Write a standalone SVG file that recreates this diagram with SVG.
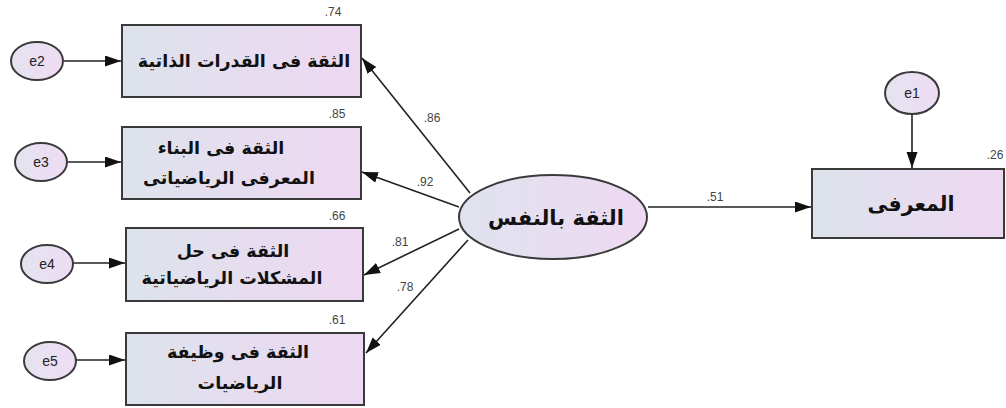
<svg xmlns="http://www.w3.org/2000/svg" width="1006" height="408" viewBox="0 0 1006 408">
<style>
.box{stroke:#3a3a3a;stroke-width:2;fill:url(#gb)}
.err{stroke:#3a3a3a;stroke-width:2;fill:url(#ge)}
.lat{stroke:#3a3a3a;stroke-width:2;fill:url(#gl)}
.conn{stroke:#222;stroke-width:1.6;fill:none;marker-end:url(#ah)}
.ar{font-family:"DejaVu Sans",sans-serif;font-weight:bold;font-size:17.5px;fill:#111;text-anchor:middle}
.el{font-family:"Liberation Sans",Arial,sans-serif;font-size:14px;fill:#222;text-anchor:middle}
.num{font-family:"Liberation Sans",Arial,sans-serif;font-size:12px;fill:#444;text-anchor:middle}
</style>
<defs>
<linearGradient id="gb" x1="0" y1="0" x2="1" y2="0"><stop offset="0" stop-color="#dde3ec"/><stop offset="1" stop-color="#eed8f2"/></linearGradient>
<linearGradient id="ge" x1="0" y1="0" x2="1" y2="0"><stop offset="0" stop-color="#e4e3f0"/><stop offset="1" stop-color="#efdcf3"/></linearGradient>
<linearGradient id="gl" x1="0" y1="0" x2="1" y2="0"><stop offset="0" stop-color="#dfe3ee"/><stop offset="1" stop-color="#eed9f2"/></linearGradient>
<marker id="ah" markerUnits="userSpaceOnUse" markerWidth="18" markerHeight="12" refX="16" refY="5.5" orient="auto"><path d="M0,0 L16,5.5 L0,11 Z" fill="#111"/></marker>
</defs>
<rect width="1006" height="408" fill="#fff"/>
<g id="connectors">
<line class="conn" x1="64" y1="61" x2="121" y2="61"/>
<line class="conn" x1="68" y1="162" x2="121" y2="162"/>
<line class="conn" x1="73" y1="263" x2="125" y2="263"/>
<line class="conn" x1="76" y1="360" x2="125" y2="360"/>
<line class="conn" x1="470" y1="193" x2="362" y2="58"/>
<line class="conn" x1="459" y1="207" x2="362" y2="172"/>
<line class="conn" x1="459" y1="229" x2="364" y2="275"/>
<line class="conn" x1="468" y1="240" x2="366" y2="353"/>
<line class="conn" x1="648" y1="207" x2="811" y2="207"/>
<line class="conn" x1="912" y1="114" x2="912" y2="168"/>
<text class="num" x="432" y="122">.86</text>
<text class="num" x="425" y="186">.92</text>
<text class="num" x="400" y="246">.81</text>
<text class="num" x="405" y="291">.78</text>
<text class="num" x="715" y="201">.51</text>
</g>
<g id="e2"><ellipse class="err" cx="37" cy="61" rx="26" ry="19"/><text class="el" x="37" y="66">e2</text></g>
<g id="e3"><ellipse class="err" cx="41" cy="162" rx="26" ry="19"/><text class="el" x="41" y="167">e3</text></g>
<g id="e4"><ellipse class="err" cx="47" cy="264" rx="26" ry="19"/><text class="el" x="47" y="269">e4</text></g>
<g id="e5"><ellipse class="err" cx="50" cy="361" rx="26" ry="19"/><text class="el" x="50" y="366">e5</text></g>
<g id="e1"><ellipse class="err" cx="912" cy="93" rx="27" ry="21"/><text class="el" x="912" y="98">e1</text></g>
<g id="box1"><rect class="box" x="122" y="25" width="239" height="72"/><text class="ar" x="244" y="67">الثقة فى القدرات الذاتية</text><text class="num" x="333" y="16">.74</text></g>
<g id="box2"><rect class="box" x="122" y="127" width="239" height="72"/><text class="ar" x="221" y="154">الثقة فى البناء</text><text class="ar" x="229" y="184">المعرفى الرياضياتى</text><text class="num" x="337" y="118">.85</text></g>
<g id="box3"><rect class="box" x="126" y="228" width="237" height="73"/><text class="ar" x="233" y="257">الثقة فى حل</text><text class="ar" x="232" y="284">المشكلات الرياضياتية</text><text class="num" x="337" y="220">.66</text></g>
<g id="box4"><rect class="box" x="126" y="333" width="238" height="72"/><text class="ar" x="238" y="358">الثقة فى وظيفة</text><text class="ar" x="240" y="389">الرياضيات</text><text class="num" x="337" y="324">.61</text></g>
<g id="latent"><ellipse class="lat" cx="553" cy="217" rx="94" ry="42"/><text class="ar" x="556" y="225" style="font-size:21px">الثقة بالنفس</text></g>
<g id="box5"><rect class="box" x="812" y="169" width="192" height="69"/><text class="ar" x="911" y="211" style="font-size:20.5px">المعرفى</text><text class="num" x="995" y="159">.26</text></g>
</svg>
